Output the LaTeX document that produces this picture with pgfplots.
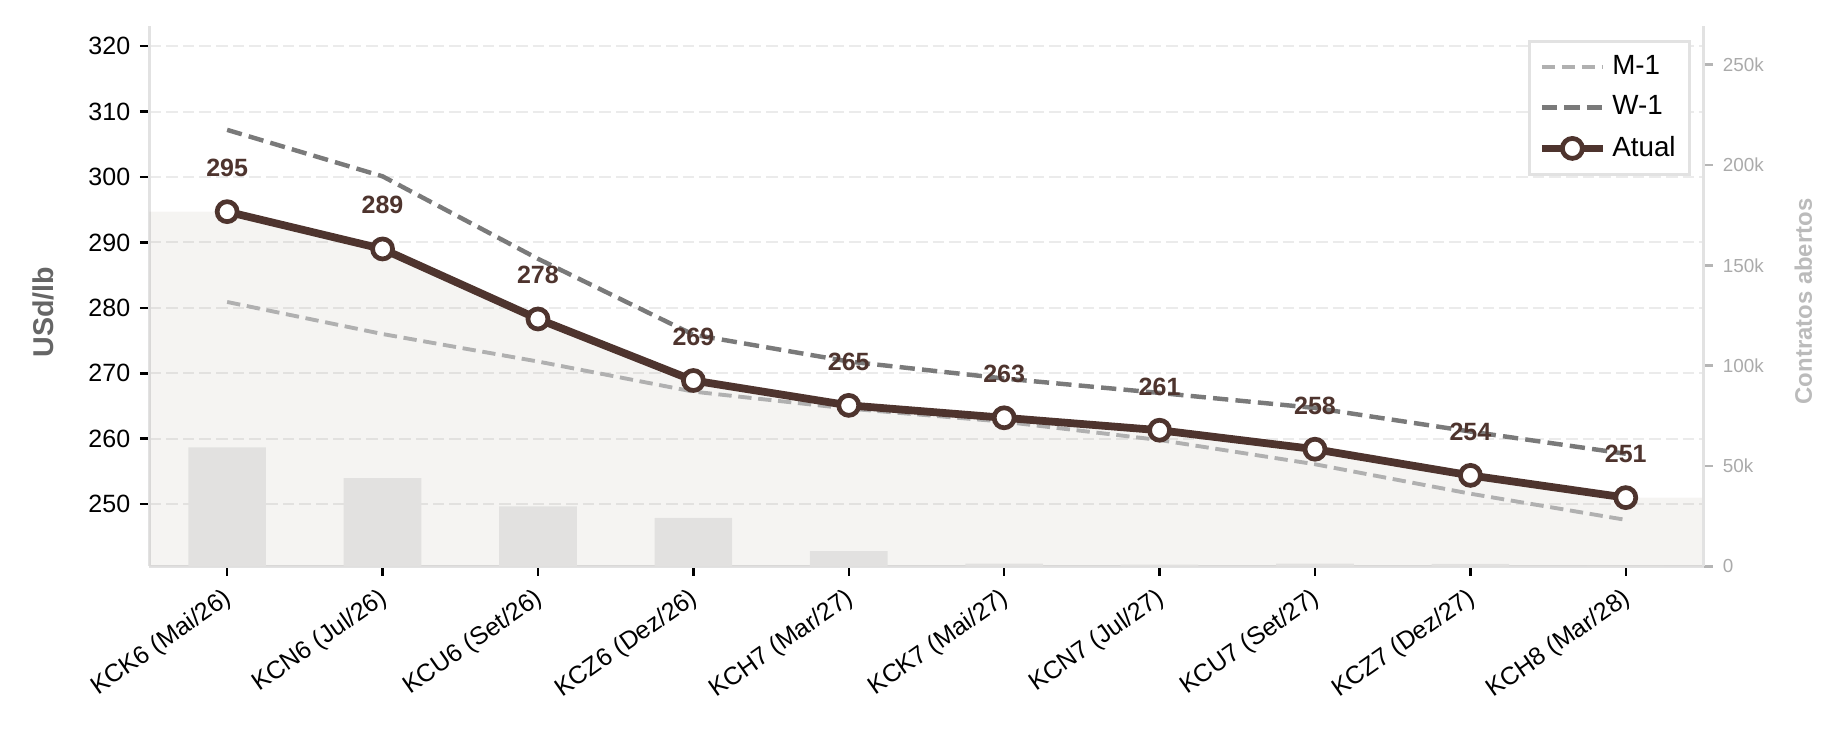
\documentclass[border=0pt]{standalone}
\usepackage{pgfplots}
\usepackage{pgfplotstable}
\pgfplotsset{compat=1.18}
\usepackage{fontspec}
\setmainfont{Liberation Sans}

\definecolor{atual}{HTML}{4E342E}
\definecolor{fillc}{HTML}{58482A}
\definecolor{wone}{HTML}{7A7A7A}
\definecolor{mone}{HTML}{B0B0B0}
\definecolor{barc}{HTML}{E2E1E0}
\definecolor{spinec}{HTML}{E2E2E2}
\definecolor{gridc}{HTML}{EBEBEB}
\definecolor{ylabc}{HTML}{666666}
\definecolor{rlabc}{HTML}{BBBBBB}
\definecolor{rtickc}{HTML}{B5B5B5}
\definecolor{rticklabc}{HTML}{AAAAAA}

% contract index, current price (USd/lb), M-1, W-1, open contracts, label
\pgfplotstableread{
idx atual  mone   wone   oi     lbl
0   294.7  280.9  307.2  59300  295
1   289.0  276.0  300.1  44000  289
2   278.3  271.8  287.5  29900  278
3   268.9  267.2  275.9  24100  269
4   265.1  264.6  271.8  7600   265
5   263.2  262.6  269.2  1300   263
6   261.3  259.8  267.0  900    261
7   258.4  256.1  264.7  1400   258
8   254.4  251.6  261.1  1200   254
9   251.0  247.6  257.7  200    251
}\data

% shaded area under the current curve, extended to the axis edges
\pgfplotstableread{
x    y
-0.5 294.7
0    294.7
1    289.0
2    278.3
3    268.9
4    265.1
5    263.2
6    261.3
7    258.4
8    254.4
9    251.0
9.5  251.0
}\filltab

\pgfplotsset{
  common/.style={
    scale only axis, width=559.5pt, height=194.6pt,
    at={(0pt,0pt)}, anchor=south west,
    xmin=-0.5, xmax=9.5,
  },
}

\begin{document}
\begin{tikzpicture}
\path[use as bounding box] (-53.8pt,-60.35pt) rectangle (610.8pt,203.9pt);

% left axis: grid, spines, shaded area
\begin{axis}[common,
  ymin=240.5, ymax=323.1,
  axis x line*=bottom, axis y line*=left,
  axis line style={draw=spinec, line width=1.1pt},
  xtick={0,...,9},
  xticklabels={KCK6 (Mai/26),KCN6 (Jul/26),KCU6 (Set/26),KCZ6 (Dez/26),KCH7 (Mar/27),KCK7 (Mai/27),KCN7 (Jul/27),KCU7 (Set/27),KCZ7 (Dez/27),KCH8 (Mar/28)},
  ytick={250,260,...,320},
  tick align=outside, major tick length=3.4pt,
  tick style={black, line width=0.9pt},
  ymajorgrids,
  grid style={gridc, line width=0.7pt, dash pattern=on 4.2pt off 1.8pt},
  xticklabel style={rotate=35, anchor=north east, font=\fontsize{9}{10}\selectfont, inner sep=2pt, xshift=-1.5pt},
  yticklabel style={font=\fontsize{9}{10}\selectfont},
  /pgf/number format/assume math mode=true,
  ylabel={USd/lb},
  ylabel style={at={(axis description cs:-0.068,0.47)}, anchor=center,
    font=\bfseries\fontsize{10.3}{12}\selectfont, text=ylabc},
]
\addplot[draw=none, fill=fillc, fill opacity=0.06] table[x=x,y=y] {\filltab} \closedcycle;
\end{axis}

% right axis: open contracts bars
\begin{axis}[common,
  ymin=0, ymax=269400,
  axis x line=none, axis y line*=right,
  axis line style={draw=spinec, line width=1.1pt},
  ytick={0,50000,100000,150000,200000,250000},
  yticklabels={0,50k,100k,150k,200k,250k},
  scaled y ticks=false,
  tick align=outside, major tick length=3.4pt,
  tick style={draw=rtickc, line width=0.9pt},
  yticklabel style={font=\fontsize{6.8}{8}\selectfont, text=rticklabc},
  ylabel={Contratos abertos},
  ylabel style={at={(axis description cs:1.0643,0.49)}, anchor=center,
    font=\bfseries\fontsize{8.6}{10}\selectfont, text=rlabc},
]
\addplot[ybar, bar width=0.5, fill=barc, draw=none] table[x=idx,y=oi] {\data};
\end{axis}

% lines
\begin{axis}[common,
  ymin=240.5, ymax=323.1,
  hide axis,
  legend style={at={(axis description cs:0.992,0.974)}, anchor=north east,
    draw=spinec, line width=1.1pt, fill=white,
    font=\fontsize{10}{12}\selectfont, inner sep=3pt, row sep=2.2pt},
  legend cell align=left,
  legend image code/.code={\draw[mark repeat=2,mark phase=2,#1] plot coordinates {(0pt,0pt) (11pt,0pt) (22pt,0pt)};},
]
\addplot[mone, line width=1.4pt, dash pattern=on 4.8pt off 2.4pt] table[x=idx,y=mone] {\data};
\addlegendentry{M-1}
\addplot[wone, line width=1.6pt, dash pattern=on 5.5pt off 2.6pt] table[x=idx,y=wone] {\data};
\addlegendentry{W-1}
\addplot[atual, line width=2.8pt, mark=*, mark size=3.6pt,
  mark options={fill=white, draw=atual, line width=1.7pt, solid},
  point meta=explicit symbolic,
  nodes near coords,
  every node near coord/.append style={anchor=center, yshift=15.7pt,
    font=\bfseries\fontsize{9}{10}\selectfont, text=atual, inner sep=0pt},
] table[x=idx,y=atual,meta=lbl] {\data};
\addlegendentry{Atual}
\end{axis}
\end{tikzpicture}
\end{document}
